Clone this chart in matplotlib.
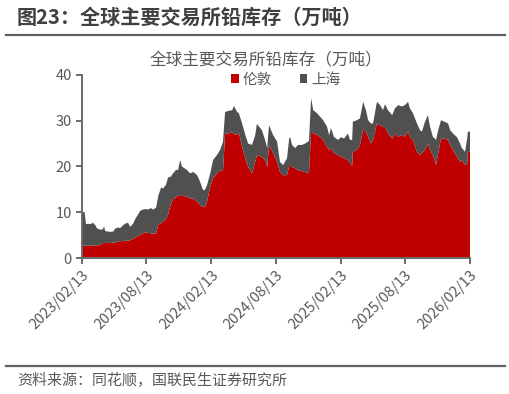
import numpy as np
import pandas as pd
import matplotlib
matplotlib.use("Agg")
from matplotlib import pyplot as plt

plt.rcParams['font.family'] = ['Noto Sans CJK SC', 'DejaVu Sans']

# data (万吨)
dates = [
    "2023-02-13", "2023-02-20", "2023-02-24", "2023-03-02", "2023-03-08", "2023-03-16",
    "2023-03-22", "2023-03-27", "2023-04-05", "2023-04-13", "2023-04-16", "2023-04-19",
    "2023-04-27", "2023-05-03", "2023-05-12", "2023-05-17", "2023-05-26", "2023-05-31",
    "2023-06-09", "2023-06-17", "2023-06-23", "2023-06-29", "2023-07-07", "2023-07-13",
    "2023-07-21", "2023-07-27", "2023-08-04", "2023-08-13", "2023-08-18", "2023-08-27",
    "2023-09-02", "2023-09-10", "2023-09-16", "2023-09-24", "2023-09-30", "2023-10-08",
    "2023-10-14", "2023-10-22", "2023-10-28", "2023-11-06", "2023-11-11", "2023-11-17",
    "2023-11-22", "2023-12-01", "2023-12-07", "2023-12-15", "2023-12-24", "2024-01-04",
    "2024-01-12", "2024-01-21", "2024-01-26", "2024-02-01", "2024-02-10", "2024-02-18",
    "2024-02-29", "2024-03-09", "2024-03-17", "2024-03-23", "2024-03-31", "2024-04-12",
    "2024-04-17", "2024-04-26", "2024-05-01", "2024-05-10", "2024-05-18", "2024-05-27",
    "2024-06-07", "2024-06-16", "2024-06-21", "2024-07-05", "2024-07-14", "2024-07-20",
    "2024-07-25", "2024-08-06", "2024-08-17", "2024-08-25", "2024-09-03", "2024-09-14",
    "2024-09-20", "2024-09-23", "2024-09-28", "2024-10-07", "2024-10-15", "2024-10-26",
    "2024-11-04", "2024-11-12", "2024-11-15", "2024-11-21", "2024-11-27", "2024-12-08",
    "2024-12-16", "2024-12-25", "2025-01-05", "2025-01-11", "2025-01-16", "2025-01-25",
    "2025-02-05", "2025-02-14", "2025-02-22", "2025-03-05", "2025-03-11", "2025-03-17",
    "2025-03-19", "2025-03-31", "2025-04-08", "2025-04-17", "2025-04-25", "2025-05-01",
    "2025-05-09", "2025-05-15", "2025-05-26", "2025-06-04", "2025-06-12", "2025-06-18",
    "2025-06-26", "2025-07-08", "2025-07-16", "2025-07-25", "2025-08-05", "2025-08-13",
    "2025-08-22", "2025-08-27", "2025-09-05", "2025-09-16", "2025-09-25", "2025-09-30",
    "2025-10-09", "2025-10-17", "2025-10-23", "2025-10-31", "2025-11-09", "2025-11-15",
    "2025-11-23", "2025-12-02", "2025-12-13", "2025-12-19", "2025-12-27", "2026-01-07",
    "2026-01-16", "2026-01-21", "2026-01-30", "2026-02-05", "2026-02-07", "2026-02-13",
]

london = [
    2.7, 2.7, 2.7, 2.7, 2.7, 2.7, 2.7, 2.8, 2.8, 3.3, 3.3, 3.3,
    3.3, 3.3, 3.4, 3.4, 3.6, 3.7, 3.7, 3.8, 3.8, 3.9, 4.2, 4.5,
    4.8, 5.1, 5.4, 5.6, 5.5, 5.4, 5.3, 5.4, 7.3, 7.6, 8.0, 8.5,
    9.5, 11.8, 12.8, 13.3, 13.6, 13.8, 13.6, 13.5, 13.4, 13.0, 13.0, 12.3,
    11.6, 11.2, 11.1, 12.3, 15.6, 17.4, 18.5, 19.2, 18.9, 27.2, 27.2, 27.4,
    27.1, 26.9, 27.4, 24.3, 22.1, 19.9, 18.5, 21.0, 22.5, 22.1, 21.4, 19.9,
    24.7, 22.9, 21.0, 18.8, 18.1, 18.1, 20.1, 20.1, 19.9, 19.6, 19.2, 19.0,
    18.8, 18.6, 18.6, 27.6, 27.2, 26.9, 26.5, 25.8, 24.3, 23.6, 23.9, 22.9,
    22.5, 22.1, 21.8, 21.4, 20.7, 20.1, 23.2, 23.6, 24.7, 28.1, 27.6, 26.5,
    25.0, 25.8, 29.4, 29.0, 28.6, 28.6, 27.2, 26.1, 27.2, 26.5, 26.9, 26.5,
    27.6, 26.5, 25.8, 23.2, 22.5, 22.9, 23.6, 25.0, 23.6, 22.5, 20.3, 22.9,
    26.1, 26.1, 25.8, 24.7, 23.6, 22.1, 21.0, 21.4, 20.3, 20.6, 23.2, 23.2,
]

shanghai = [
    7.4, 7.3, 4.7, 4.8, 4.7, 5.0, 4.5, 3.7, 3.4, 3.0, 3.7, 2.6,
    2.5, 2.4, 2.4, 3.0, 3.1, 2.8, 3.5, 3.8, 3.9, 2.9, 3.3, 4.0,
    4.7, 5.2, 5.2, 5.1, 5.1, 5.5, 5.3, 5.6, 6.2, 7.8, 7.2, 7.5,
    8.1, 6.0, 5.7, 6.0, 5.6, 7.6, 6.4, 6.0, 5.8, 5.5, 5.8, 5.8,
    5.1, 3.6, 3.8, 3.6, 2.9, 4.0, 4.0, 4.4, 6.5, 4.7, 4.9, 4.9,
    6.1, 5.0, 4.2, 5.1, 5.1, 5.1, 6.2, 5.8, 6.8, 5.8, 4.4, 4.1,
    4.3, 3.9, 4.4, 2.2, 2.2, 3.7, 6.0, 6.3, 4.8, 4.4, 5.5, 5.7,
    6.2, 6.8, 7.0, 7.3, 5.1, 4.7, 4.4, 4.3, 4.4, 3.2, 4.5, 3.5,
    3.3, 4.3, 4.3, 5.8, 5.1, 5.7, 6.6, 6.5, 5.8, 6.0, 4.7, 3.6,
    4.4, 3.6, 4.7, 4.4, 3.7, 5.0, 5.1, 5.1, 5.5, 6.9, 6.2, 6.9,
    6.5, 6.2, 5.8, 6.2, 5.4, 4.7, 6.2, 6.2, 5.1, 4.0, 5.5, 5.0,
    4.0, 3.7, 3.6, 3.2, 3.6, 4.3, 4.0, 2.6, 2.9, 5.5, 4.4, 4.4,
]

series_names = ["伦敦", "上海"]
tick_dates = ["2023-02-13", "2023-08-13", "2024-02-13", "2024-08-13",
              "2025-02-13", "2025-08-13", "2026-02-13"]

red = "#C00000"
dark = "#505050"
txt = "#595959"

x = pd.to_datetime(dates)

fig = plt.figure(figsize=(5.1, 3.94), dpi=100)
ax = fig.add_axes([0.161, 0.345, 0.7606, 0.465])

ax.stackplot(x, london, shanghai, colors=[red, dark], labels=series_names, linewidth=0)

ax.set_xlim(pd.Timestamp(tick_dates[0]), pd.Timestamp(tick_dates[-1]))
ax.set_ylim(0, 40)
ax.set_yticks([0, 10, 20, 30, 40])
ax.set_xticks(pd.to_datetime(tick_dates))
ax.set_xticklabels([d.replace("-", "/") for d in tick_dates], rotation=45,
                   ha="right", rotation_mode="anchor")

for s in ["top", "right"]:
    ax.spines[s].set_visible(False)
for s in ["left", "bottom"]:
    ax.spines[s].set_color("#6a6a6a")
    ax.spines[s].set_linewidth(1.4)
ax.tick_params(colors="#6a6a6a", labelcolor=txt, labelsize=10.5, length=4, width=1.4)
ax.tick_params(axis="x", pad=3)

# chart title and legend
fig.text(0.522, 0.845, "全球主要交易所铅库存（万吨）", ha="center", va="center",
         fontsize=12, color=txt)
leg = ax.legend(loc="center", bbox_to_anchor=(0.526, 0.973), ncol=2, frameon=False,
                fontsize=10.5, handlelength=0.5, handleheight=0.5, handletextpad=0.3,
                columnspacing=1.9, borderaxespad=0)
for t in leg.get_texts():
    t.set_color(txt)

# report header / footer
fig.text(0.033, 0.955, "图23：全球主要交易所铅库存（万吨）", ha="left", va="center",
         fontsize=14.5, fontweight="bold", color="#404040")
fig.add_artist(plt.Line2D([0.012, 0.99], [0.911, 0.911], color="#606060", lw=1.6))
fig.add_artist(plt.Line2D([0.012, 0.99], [0.071, 0.071], color="#606060", lw=1.6))
fig.text(0.033, 0.035, "资料来源：同花顺，国联民生证券研究所", ha="left", va="center",
         fontsize=10.8, color=txt)

fig.savefig("out.png", dpi=100)
